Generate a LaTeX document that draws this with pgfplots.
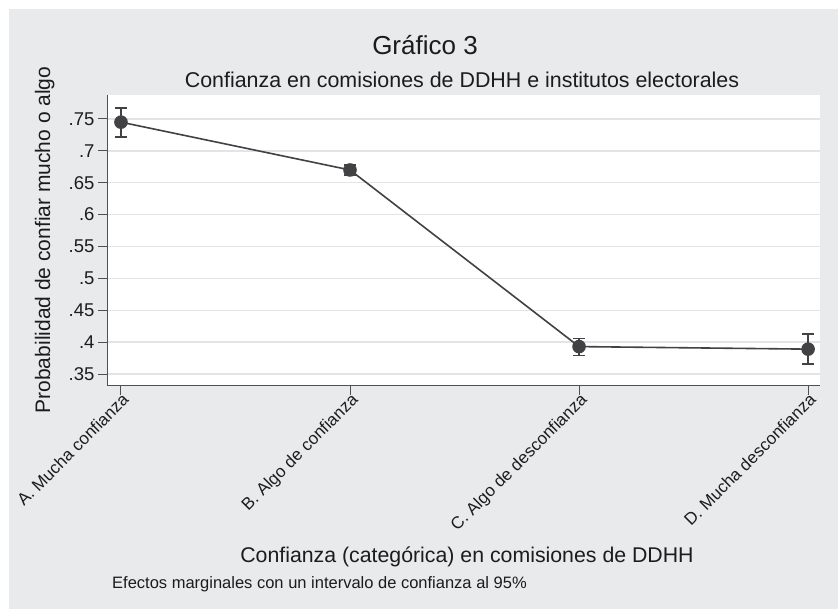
\documentclass[border=0pt]{standalone}
\usepackage{fontspec}
\setmainfont{Liberation Sans}
\usepackage{pgfplots}
\pgfplotsset{compat=1.18}
\definecolor{bg}{RGB}{233,234,236}
\definecolor{ln}{RGB}{66,66,68}
\definecolor{txt}{RGB}{28,28,30}
\definecolor{grd}{RGB}{228,228,230}
\definecolor{axl}{RGB}{80,80,82}
\begin{document}
\begin{tikzpicture}[x=1pt,y=1pt]
\fill[white] (0,0) rectangle (838,609);
\fill[bg] (9,0) rectangle (838,600);
\node[anchor=base, text=txt, font=\fontsize{26}{30}\selectfont] at (425,554) {Gráfico 3};
\node[anchor=base, text=txt, font=\fontsize{21.4}{25}\selectfont] at (462,521) {Confianza en comisiones de DDHH e institutos electorales};
\node[anchor=base, text=txt, font=\fontsize{21.3}{25}\selectfont] at (467,46) {Confianza (categórica) en comisiones de DDHH};
\node[anchor=base west, text=txt, font=\fontsize{16.5}{19}\selectfont, inner sep=0pt] at (112,20) {Efectos marginales con un intervalo de confianza al 95\%};
\node[anchor=base, rotate=90, text=txt, font=\fontsize{21}{25}\selectfont] at (50,369) {Probabilidad de confiar mucho o algo};
\begin{axis}[
  at={(107pt,223pt)}, anchor=south west,
  scale only axis, width=713pt, height=291pt,
  xmin=-0.061, xmax=3.052, ymin=0.3312, ymax=0.7876,
  axis background/.style={fill=white},
  axis line style={draw=none},
  xtick={0,1,2,3},
  xticklabels={A. Mucha confianza, B. Algo de confianza, C. Algo de desconfianza, D. Mucha desconfianza},
  ytick={0.35,0.4,0.45,0.5,0.55,0.6,0.65,0.7,0.75},
  yticklabels={.35,.4,.45,.5,.55,.6,.65,.7,.75},
  tick align=outside, major tick length=9pt,
  xtick pos=left, ytick pos=left,
  tick style={draw=axl, line width=1pt},
  ymajorgrids, grid style={grd, line width=1.4pt},
  xticklabel style={rotate=45, anchor=north east, font=\fontsize{17}{19}\selectfont, text=txt, inner sep=1pt, xshift=3pt, yshift=3pt},
  yticklabel style={font=\fontsize{18.5}{20}\selectfont, text=txt},
  clip=false,
]
\addplot[ln, line width=1.6pt, mark=*, mark size=6pt, mark options={fill=ln, draw=ln},
  error bars/.cd, y dir=both, y explicit,
  error bar style={line width=1.5pt, ln},
  error mark options={rotate=90, mark size=6pt, line width=1.5pt, ln}]
coordinates {
  (0,0.745) += (0,0.022) -= (0,0.023)
  (1,0.670) += (0,0.008) -= (0,0.008)
  (2,0.393) += (0,0.013) -= (0,0.014)
  (3,0.389) += (0,0.024) -= (0,0.023)
};
\draw[axl, line width=1pt] (rel axis cs:0,1) -- (rel axis cs:0,0) -- (rel axis cs:1,0);
\end{axis}
\end{tikzpicture}
\end{document}
